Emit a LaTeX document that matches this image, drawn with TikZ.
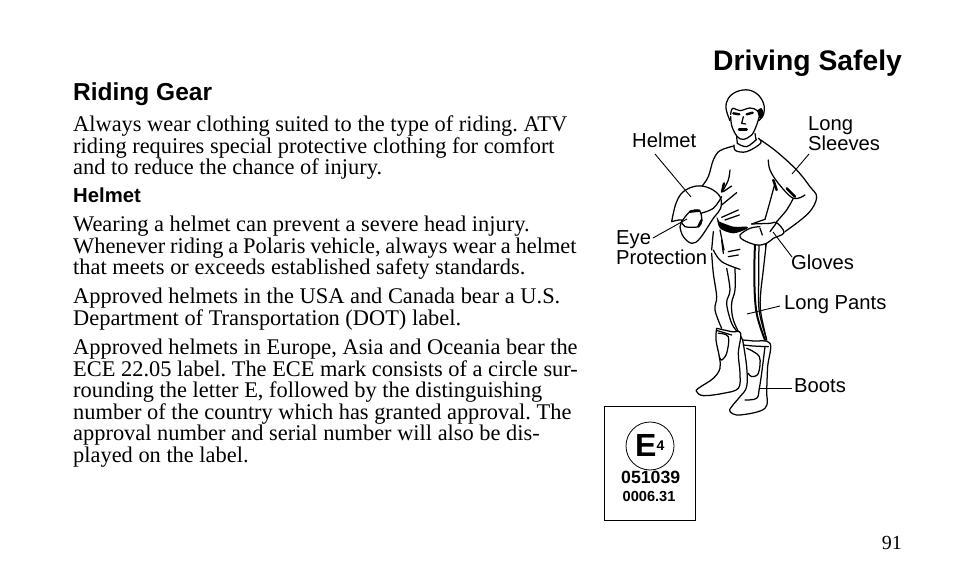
\documentclass[tikz,border=0pt]{standalone}
\usepackage{fontspec}
\setmainfont{Liberation Serif}
\setsansfont{Liberation Sans}
\usetikzlibrary{arrows.meta, positioning}

\tikzset{
	body/.style={anchor=north west, inner sep=0pt, align=left, font=\rmfamily\frenchspacing\fontsize{22.4}{21.5}\selectfont},
	head/.style={anchor=base west, inner sep=0pt, font=\sffamily\bfseries\fontsize{#1}{#1}\selectfont},
	callout/.style={anchor=base west, inner sep=0pt, align=left, font=\sffamily\fontsize{20.2}{20.5}\selectfont},
	leader/.style={line width=0.9pt},
	figline/.style={line width=1.25pt, line join=round, line cap=round},
	figthick/.style={line width=2.4pt, line join=round, line cap=round},
	outline/.style={figline, smooth, tension=0.6},
}

\begin{document}
\begin{tikzpicture} [x=1pt, y=-1pt]
		\useasboundingbox (0,0) rectangle (954,588);
		\fill [white] (0,0) rectangle (954,588);

		\node (title) [head=28.3] at (713,71) {Driving Safely};
		\node (riding) [head=24.5] at (73,101) {Riding Gear};
		\node (para1) [body] at (73,116) {Always wear clothing suited to the type of riding. ATV\\riding requires special protective clothing for comfort\\and to reduce the chance of injury.};
		\node (helmethead) [head=20.3] at (73,203) {Helmet};
		\node (para2) [body] at (73,216) {Wearing a helmet can prevent a severe head injury.\\{\spaceskip=4.85pt Whenever riding a Polaris vehicle, always wear a helmet}\\that meets or exceeds established safety standards.};
		\node (para3) [body] at (73,288) {Approved helmets in the USA and Canada bear a U.S.\\Department of Transportation (DOT) label.};
		\node (para4) [body] at (73,339) {Approved helmets in Europe, Asia and Oceania bear the\\ECE 22.05 label. The ECE mark consists of a circle sur-\\rounding the letter E, followed by the distinguishing\\number of the country which has granted approval. The\\approval number and serial number will also be dis-\\played on the label.};
		\node (pageno) [anchor=base east, inner sep=0pt, font=\rmfamily\fontsize{20}{20}\selectfont] at (902,549) {91};

		% legs
		\begin{scope} [shift={(600,240)}, scale=0.3333]
			\draw [outline] plot coordinates {(335,40) (340,100) (350,170) (345,210) (365,265)};
			\draw [outline] plot coordinates {(380,85) (390,150) (380,190) (395,250) (415,278)};
			\draw [outline] plot coordinates {(405,85) (405,150) (395,190) (400,240) (428,300)};
			\draw [outline] plot coordinates {(340,30) (365,65) (420,88)};
			\draw [figline] (385,35) -- (420,28) (385,50) -- (415,45);
			\draw [figline] (365,0) -- (370,40);
			\draw [outline] plot coordinates {(500,0) (490,90) (482,160) (482,215) (500,300)};
			\draw [outline, line width=2pt] plot coordinates {(465,10) (463,120) (470,220) (495,300)};
			\draw [outline] plot coordinates {(477,10) (476,120) (478,215) (500,298)};
			% left boot
			\draw [outline, fill=white] plot coordinates {(350,265) (348,300) (358,350) (360,385) (340,415) (295,445) (290,455) (310,467) (370,460) (415,445) (420,400) (415,340) (422,280) (395,275) (350,265)};
			\draw [outline] plot coordinates {(355,280) (385,290) (380,340) (365,360) (358,350)};
			\draw [outline] plot coordinates {(352,272) (395,285)};
			% right boot
			\draw [outline, fill=white] plot coordinates {(428,300) (440,380) (440,440) (420,470) (395,500) (390,515) (420,525) (495,505) (500,450) (503,380) (510,310) (460,303) (428,300)};
			\draw [outline] plot coordinates {(430,315) (460,318) (505,320)};
			\draw [outline] plot coordinates {(440,325) (478,350) (475,400) (455,410) (445,400)};
			\draw [outline] plot coordinates {(495,320) (485,400) (478,445) (470,475) (435,480)};
		\end{scope}

		% upper body
		\begin{scope} [shift={(600,80)}, scale=0.3333]
			\draw [outline] plot coordinates {(390,122) (378,85) (385,55) (410,35) (445,30) (475,45) (492,75) (490,105) (476,122)};
			\fill plot [smooth] coordinates {(474,90) (484,84) (491,100) (480,118)};
			\draw [outline] plot coordinates {(392,103) (398,85) (420,92) (450,84) (472,92) (478,112)};
			\draw [outline] plot coordinates {(392,110) (396,140) (412,170) (430,178) (455,165) (470,135) (477,112)};
			\draw [figthick] (400,100) -- (418,103) (440,103) -- (458,98);
			\draw [figline] (430,110) -- (425,130) -- (437,132);
			\draw [figthick] (417,148) -- (440,148);
			\draw [figline] (410,170) -- (412,190) (465,160) -- (468,178);
			\draw [outline] plot coordinates {(402,195) (407,212) (440,215) (482,190) (475,175)};
			\draw [outline] plot coordinates {(412,190) (440,200) (470,178)};
			\draw [outline] plot coordinates {(402,198) (360,212) (340,240) (325,290) (305,320)};
			\draw [outline] plot coordinates {(482,180) (530,215) (590,270) (630,320) (650,352) (625,400) (555,455)};
			\draw [outline] plot coordinates {(505,240) (510,270) (535,310) (580,355) (615,345)};
			\draw [outline] plot coordinates {(580,355) (560,390) (530,425)};
			\draw [figthick] (520,300) -- (530,330) (560,325) -- (585,350);
			\draw [outline] plot coordinates {(525,310) (510,365) (495,418)};
			\draw [outline] plot coordinates {(390,270) (385,300) (370,330)};
			\draw [figthick] (372,310) -- (366,335);
			\draw [figline] (395,318) -- (370,335) (410,338) -- (365,375) (415,390) -- (365,412) (418,405) -- (375,420);
			\draw [figline] (495,418) -- (455,432);
			% belt
			\fill plot [smooth] coordinates {(350,410) (360,445) (400,460) (440,447) (440,440) (400,440) (358,425)};
			\draw [figline] (340,455) -- (335,510) (360,450) -- (372,510);
			\draw [figline] (465,490) -- (465,510) (497,480) -- (497,510);
			% glove
			\draw [outline, fill=white] plot coordinates {(455,432) (510,430) (530,428) (552,458) (520,475) (500,490) (470,495) (430,480) (420,465) (450,445) (480,440)};
			\draw [figline] (530,428) -- (510,455) (480,445) -- (487,465);
			% helmet
			\draw [outline, fill=white] plot coordinates {(215,425) (228,370) (250,335) (290,318) (330,325) (360,350) (362,385) (340,415) (300,475) (275,490) (250,470) (240,440) (245,420) (215,425)};
			\draw [outline, fill=white] plot coordinates {(245,425) (270,395) (298,392) (305,420) (295,440) (255,440) (245,425)};
			\draw [figthick] (270,395) -- (298,392) (305,420) -- (295,440);
			\draw [outline] plot coordinates {(302,400) (340,385) (365,350)};
		\end{scope}

		\node (lblhelmet) [callout] at (632,148) {Helmet};
		\node (lblsleeves) [callout] at (808,150.8) {Long\\Sleeves};
		\node (lbleye) [callout] at (616,264.8) {Eye\\Protection};
		\node (lblgloves) [callout] at (791,270) {Gloves};
		\node (lblpants) [callout] at (784,309) {Long Pants};
		\node (lblboots) [callout] at (794,392) {Boots};
		\coordinate (tiphelmet) at (691,197);
		\coordinate (tipsleeves) at (792,174);
		\coordinate (tipeye) at (687,219);
		\coordinate (tipgloves) at (773,232);
		\coordinate (tippants) at (747,314);
		\coordinate (tipboots) at (759,388);
		\coordinate (fromhelmet) at (655,154);
		\coordinate (fromsleeves) at (809,154);
		\coordinate (fromeye) at (653,238);
		\coordinate (fromgloves) at (792,257);
		\coordinate (frompants) at (780,306);
		\coordinate (fromboots) at (792,388);
		\draw [leader] (fromhelmet) -- (tiphelmet);
		\draw [leader] (fromsleeves) -- (tipsleeves);
		\draw [leader] (fromeye) -- (tipeye);
		\draw [leader] (fromgloves) -- (tipgloves);
		\draw [leader] (frompants) -- (tippants);
		\draw [leader] (fromboots) -- (tipboots);

		% approval mark
		\node (markbox) [draw, line width=0.9pt, minimum width=91.5pt, minimum height=114pt, inner sep=0pt] at (650,463) {};
		\node (markring) [draw, circle, line width=0.8pt, minimum size=48pt, inner sep=0pt] at (650,446) {};
		\node (marke) [head=32] at (635,456.5) {E};
		\node (markfour) [head=14] at (656.5,450.5) {4};
		\node (markno) [head=17.7] at (621,483) {051039};
		\node (markser) [head=14.6] at (622.5,501.5) {0006.31};
	\end{tikzpicture}
\end{document}
